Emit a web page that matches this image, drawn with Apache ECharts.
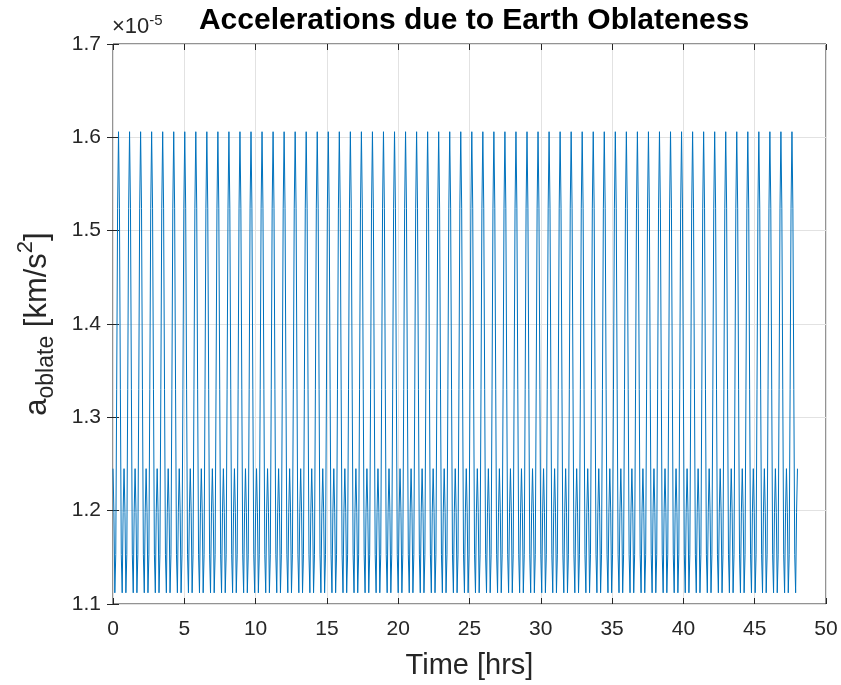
<!DOCTYPE html>
<html>
<head>
<meta charset="utf-8">
<script src="https://cdn.jsdelivr.net/npm/echarts@6/dist/echarts.min.js"></script>
<style>
  html, body { margin: 0; padding: 0; background: #fff; }
  #chart { width: 841px; height: 685px; }
</style>
</head>
<body>
<div id="chart"></div>
<script>
// 数据：0~48 小时，等间隔采样（744 段），单位 ×10^-5 km/s^2
const timeSpanHrs = 48;
const xTicks = [0, 5, 10, 15, 20, 25, 30, 35, 40, 45, 50];
const yTicks = [1.1, 1.2, 1.3, 1.4, 1.5, 1.6, 1.7];

// 每行一个半轨道（赤道 → 最高纬度 → 赤道）
const accelValues = [
  1.245, 1.198, 1.112, 1.153, 1.330, 1.524, 1.606, 1.524, 1.330, 1.153, 1.112, 1.198,
  1.245, 1.198, 1.112, 1.153, 1.330, 1.524, 1.606, 1.524, 1.330, 1.153, 1.112, 1.198,
  1.245, 1.198, 1.112, 1.153, 1.330, 1.524, 1.606, 1.524, 1.330, 1.153, 1.112, 1.198,
  1.245, 1.198, 1.112, 1.153, 1.330, 1.524, 1.606, 1.524, 1.330, 1.153, 1.112, 1.198,
  1.245, 1.198, 1.112, 1.153, 1.330, 1.524, 1.606, 1.524, 1.330, 1.153, 1.112, 1.198,
  1.245, 1.198, 1.112, 1.153, 1.330, 1.524, 1.606, 1.524, 1.330, 1.153, 1.112, 1.198,
  1.245, 1.198, 1.112, 1.153, 1.330, 1.524, 1.606, 1.524, 1.330, 1.153, 1.112, 1.198,
  1.245, 1.198, 1.112, 1.153, 1.330, 1.524, 1.606, 1.524, 1.330, 1.153, 1.112, 1.198,
  1.245, 1.198, 1.112, 1.153, 1.330, 1.524, 1.606, 1.524, 1.330, 1.153, 1.112, 1.198,
  1.245, 1.198, 1.112, 1.153, 1.330, 1.524, 1.606, 1.524, 1.330, 1.153, 1.112, 1.198,
  1.245, 1.198, 1.112, 1.153, 1.330, 1.524, 1.606, 1.524, 1.330, 1.153, 1.112, 1.198,
  1.245, 1.198, 1.112, 1.153, 1.330, 1.524, 1.606, 1.524, 1.330, 1.153, 1.112, 1.198,
  1.245, 1.198, 1.112, 1.153, 1.330, 1.524, 1.606, 1.524, 1.330, 1.153, 1.112, 1.198,
  1.245, 1.198, 1.112, 1.153, 1.330, 1.524, 1.606, 1.524, 1.330, 1.153, 1.112, 1.198,
  1.245, 1.198, 1.112, 1.153, 1.330, 1.524, 1.606, 1.524, 1.330, 1.153, 1.112, 1.198,
  1.245, 1.198, 1.112, 1.153, 1.330, 1.524, 1.606, 1.524, 1.330, 1.153, 1.112, 1.198,
  1.245, 1.198, 1.112, 1.153, 1.330, 1.524, 1.606, 1.524, 1.330, 1.153, 1.112, 1.198,
  1.245, 1.198, 1.112, 1.153, 1.330, 1.524, 1.606, 1.524, 1.330, 1.153, 1.112, 1.198,
  1.245, 1.198, 1.112, 1.153, 1.330, 1.524, 1.606, 1.524, 1.330, 1.153, 1.112, 1.198,
  1.245, 1.198, 1.112, 1.153, 1.330, 1.524, 1.606, 1.524, 1.330, 1.153, 1.112, 1.198,
  1.245, 1.198, 1.112, 1.153, 1.330, 1.524, 1.606, 1.524, 1.330, 1.153, 1.112, 1.198,
  1.245, 1.198, 1.112, 1.153, 1.330, 1.524, 1.606, 1.524, 1.330, 1.153, 1.112, 1.198,
  1.245, 1.198, 1.112, 1.153, 1.330, 1.524, 1.606, 1.524, 1.330, 1.153, 1.112, 1.198,
  1.245, 1.198, 1.112, 1.153, 1.330, 1.524, 1.606, 1.524, 1.330, 1.153, 1.112, 1.198,
  1.245, 1.198, 1.112, 1.153, 1.330, 1.524, 1.606, 1.524, 1.330, 1.153, 1.112, 1.198,
  1.245, 1.198, 1.112, 1.153, 1.330, 1.524, 1.606, 1.524, 1.330, 1.153, 1.112, 1.198,
  1.245, 1.198, 1.112, 1.153, 1.330, 1.524, 1.606, 1.524, 1.330, 1.153, 1.112, 1.198,
  1.245, 1.198, 1.112, 1.153, 1.330, 1.524, 1.606, 1.524, 1.330, 1.153, 1.112, 1.198,
  1.245, 1.198, 1.112, 1.153, 1.330, 1.524, 1.606, 1.524, 1.330, 1.153, 1.112, 1.198,
  1.245, 1.198, 1.112, 1.153, 1.330, 1.524, 1.606, 1.524, 1.330, 1.153, 1.112, 1.198,
  1.245, 1.198, 1.112, 1.153, 1.330, 1.524, 1.606, 1.524, 1.330, 1.153, 1.112, 1.198,
  1.245, 1.198, 1.112, 1.153, 1.330, 1.524, 1.606, 1.524, 1.330, 1.153, 1.112, 1.198,
  1.245, 1.198, 1.112, 1.153, 1.330, 1.524, 1.606, 1.524, 1.330, 1.153, 1.112, 1.198,
  1.245, 1.198, 1.112, 1.153, 1.330, 1.524, 1.606, 1.524, 1.330, 1.153, 1.112, 1.198,
  1.245, 1.198, 1.112, 1.153, 1.330, 1.524, 1.606, 1.524, 1.330, 1.153, 1.112, 1.198,
  1.245, 1.198, 1.112, 1.153, 1.330, 1.524, 1.606, 1.524, 1.330, 1.153, 1.112, 1.198,
  1.245, 1.198, 1.112, 1.153, 1.330, 1.524, 1.606, 1.524, 1.330, 1.153, 1.112, 1.198,
  1.245, 1.198, 1.112, 1.153, 1.330, 1.524, 1.606, 1.524, 1.330, 1.153, 1.112, 1.198,
  1.245, 1.198, 1.112, 1.153, 1.330, 1.524, 1.606, 1.524, 1.330, 1.153, 1.112, 1.198,
  1.245, 1.198, 1.112, 1.153, 1.330, 1.524, 1.606, 1.524, 1.330, 1.153, 1.112, 1.198,
  1.245, 1.198, 1.112, 1.153, 1.330, 1.524, 1.606, 1.524, 1.330, 1.153, 1.112, 1.198,
  1.245, 1.198, 1.112, 1.153, 1.330, 1.524, 1.606, 1.524, 1.330, 1.153, 1.112, 1.198,
  1.245, 1.198, 1.112, 1.153, 1.330, 1.524, 1.606, 1.524, 1.330, 1.153, 1.112, 1.198,
  1.245, 1.198, 1.112, 1.153, 1.330, 1.524, 1.606, 1.524, 1.330, 1.153, 1.112, 1.198,
  1.245, 1.198, 1.112, 1.153, 1.330, 1.524, 1.606, 1.524, 1.330, 1.153, 1.112, 1.198,
  1.245, 1.198, 1.112, 1.153, 1.330, 1.524, 1.606, 1.524, 1.330, 1.153, 1.112, 1.198,
  1.245, 1.198, 1.112, 1.153, 1.330, 1.524, 1.606, 1.524, 1.330, 1.153, 1.112, 1.198,
  1.245, 1.198, 1.112, 1.153, 1.330, 1.524, 1.606, 1.524, 1.330, 1.153, 1.112, 1.198,
  1.245, 1.198, 1.112, 1.153, 1.330, 1.524, 1.606, 1.524, 1.330, 1.153, 1.112, 1.198,
  1.245, 1.198, 1.112, 1.153, 1.330, 1.524, 1.606, 1.524, 1.330, 1.153, 1.112, 1.198,
  1.245, 1.198, 1.112, 1.153, 1.330, 1.524, 1.606, 1.524, 1.330, 1.153, 1.112, 1.198,
  1.245, 1.198, 1.112, 1.153, 1.330, 1.524, 1.606, 1.524, 1.330, 1.153, 1.112, 1.198,
  1.245, 1.198, 1.112, 1.153, 1.330, 1.524, 1.606, 1.524, 1.330, 1.153, 1.112, 1.198,
  1.245, 1.198, 1.112, 1.153, 1.330, 1.524, 1.606, 1.524, 1.330, 1.153, 1.112, 1.198,
  1.245, 1.198, 1.112, 1.153, 1.330, 1.524, 1.606, 1.524, 1.330, 1.153, 1.112, 1.198,
  1.245, 1.198, 1.112, 1.153, 1.330, 1.524, 1.606, 1.524, 1.330, 1.153, 1.112, 1.198,
  1.245, 1.198, 1.112, 1.153, 1.330, 1.524, 1.606, 1.524, 1.330, 1.153, 1.112, 1.198,
  1.245, 1.198, 1.112, 1.153, 1.330, 1.524, 1.606, 1.524, 1.330, 1.153, 1.112, 1.198,
  1.245, 1.198, 1.112, 1.153, 1.330, 1.524, 1.606, 1.524, 1.330, 1.153, 1.112, 1.198,
  1.245, 1.198, 1.112, 1.153, 1.330, 1.524, 1.606, 1.524, 1.330, 1.153, 1.112, 1.198,
  1.245, 1.198, 1.112, 1.153, 1.330, 1.524, 1.606, 1.524, 1.330, 1.153, 1.112, 1.198,
  1.245, 1.198, 1.112, 1.153, 1.330, 1.524, 1.606, 1.524, 1.330, 1.153, 1.112, 1.198,
  1.245
];

// 采样时间轴（均匀步长）
const stepHrs = timeSpanHrs / (accelValues.length - 1);
const seriesData = accelValues.map((v, i) => [i * stepHrs, v]);

const FONT = "'Liberation Sans', Arial, Helvetica, sans-serif";
const INK = '#262626';
const GRID_LINE = '#e2e2e2';

const chart = echarts.init(document.getElementById('chart'), null, { renderer: 'canvas' });

const tickOnly = {
  axisLine: { show: false },
  axisTick: { show: true, inside: true, length: 6, lineStyle: { color: INK } },
  axisLabel: { show: false },
  splitLine: { show: false }
};

chart.setOption({
  animation: false,
  backgroundColor: '#fff',
  title: {
    text: 'Accelerations due to Earth Oblateness',
    left: 469, top: 1, textAlign: 'center',
    textStyle: { fontFamily: FONT, fontSize: 30, fontWeight: 'bold', color: '#000' }
  },
  grid: {
    left: 113, right: 15, top: 44, bottom: 78,
    show: true, borderColor: INK, borderWidth: 1, backgroundColor: 'transparent'
  },
  xAxis: [
    {
      type: 'value', min: xTicks[0], max: xTicks[xTicks.length - 1], interval: 5,
      axisLine: { show: false },
      axisTick: { show: true, inside: true, length: 6, lineStyle: { color: INK } },
      axisLabel: { color: INK, fontFamily: FONT, fontSize: 21, margin: 15 },
      splitLine: { show: true, lineStyle: { color: GRID_LINE, width: 1 } },
      name: 'Time [hrs]', nameLocation: 'middle', nameGap: 47,
      nameTextStyle: { color: INK, fontFamily: FONT, fontSize: 29 }
    },
    Object.assign({ type: 'value', position: 'top', min: 0, max: 50, interval: 5 }, tickOnly)
  ],
  yAxis: [
    {
      type: 'value', min: yTicks[0], max: yTicks[yTicks.length - 1], interval: 0.1,
      axisLine: { show: false },
      axisTick: { show: true, inside: true, length: 6, lineStyle: { color: INK } },
      axisLabel: {
        color: INK, fontFamily: FONT, fontSize: 21, margin: 12,
        formatter: v => v.toFixed(1)
      },
      splitLine: { show: true, lineStyle: { color: GRID_LINE, width: 1 } }
    },
    Object.assign({ type: 'value', position: 'right', min: 1.1, max: 1.7, interval: 0.1 }, tickOnly)
  ],
  graphic: [
    {
      type: 'text', left: 112, top: 13,
      style: {
        text: '{m|×10}{s|-5}',
        rich: {
          m: { fontFamily: FONT, fontSize: 22, fill: INK },
          s: { fontFamily: FONT, fontSize: 15, fill: INK, padding: [0, 0, 12, 0] }
        }
      }
    },
    {
      type: 'text', x: 37, y: 324, rotation: Math.PI / 2,
      style: {
        text: '{m|a}{s|oblate}{m| [km/s}{p|2}{m|]}',
        align: 'center', verticalAlign: 'middle',
        rich: {
          m: { fontFamily: FONT, fontSize: 31, fill: INK },
          s: { fontFamily: FONT, fontSize: 23, fill: INK, padding: [20, 0, 0, 0] },
          p: { fontFamily: FONT, fontSize: 22, fill: INK, padding: [0, 0, 22, 0] }
        }
      }
    }
  ],
  series: [
    {
      type: 'line',
      data: seriesData,
      showSymbol: false,
      symbol: 'none',
      sampling: null,
      lineStyle: { color: '#0072BD', width: 1 }
    }
  ]
});
</script>
</body>
</html>
